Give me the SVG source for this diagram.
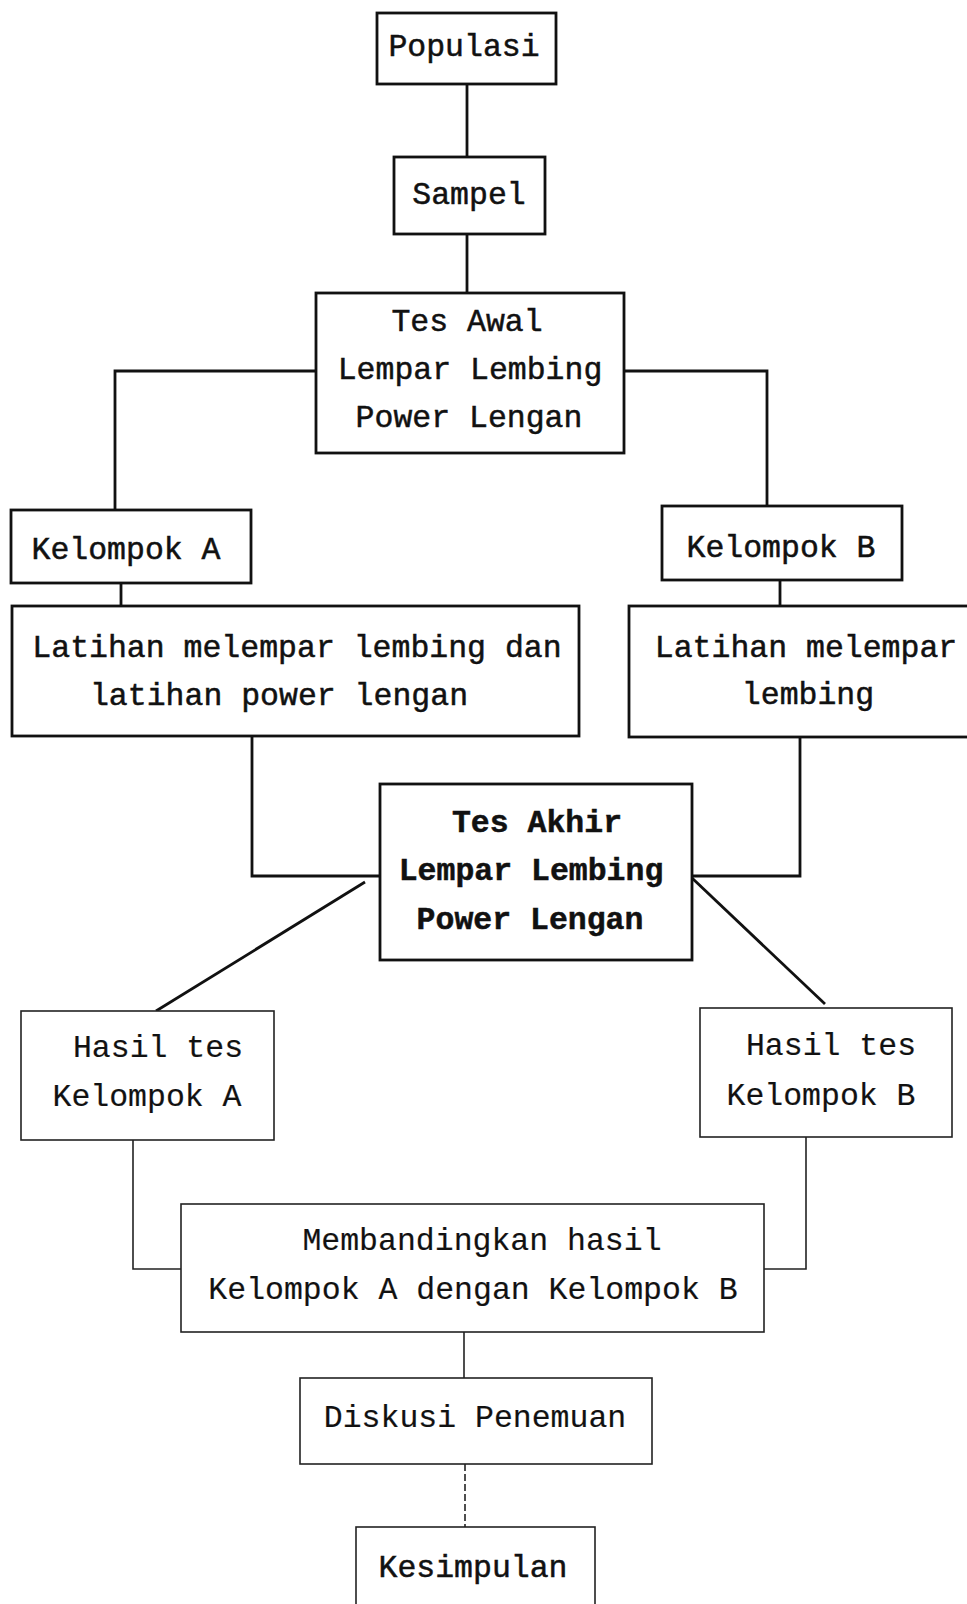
<svg xmlns="http://www.w3.org/2000/svg" width="967" height="1604" viewBox="0 0 967 1604">
<style>
text{font-family:"Liberation Mono","Courier New",monospace;font-size:31.5px;fill:#111;text-anchor:middle}
.t{stroke:#111;stroke-width:0.5px}
.b{font-weight:bold}
.l{stroke:#333;stroke-width:0.2px}
.box{fill:#fff;stroke:#111;stroke-width:2.8}
.boxl{fill:#fff;stroke:#222;stroke-width:1.6}
.c{fill:none;stroke:#111;stroke-width:2.8}
.cl{fill:none;stroke:#222;stroke-width:1.6}
.cd{fill:none;stroke:#222;stroke-width:1.6;stroke-dasharray:7 3}
</style>
<rect width="967" height="1604" fill="#fff"/>
<g id="connectors">
<path class="c" d="M467 84V157"/>
<path class="c" d="M467 234V293"/>
<path class="c" d="M316 371H115V510"/>
<path class="c" d="M624 371H767V506"/>
<path class="c" d="M121 583V606"/>
<path class="c" d="M780 580V606"/>
<path class="c" d="M252 736V876H380"/>
<path class="c" d="M800 737V876H692"/>
<path class="c" d="M365 882L156 1011"/>
<path class="c" d="M692 878L825 1004"/>
<path class="cl" d="M133 1140V1269H181"/>
<path class="cl" d="M806 1137V1269H764"/>
<path class="cl" d="M464 1332V1378"/>
<path class="cd" d="M465 1464V1527"/>
</g>
<g id="populasi"><rect class="box" x="377" y="13" width="179" height="71"/><text class="t" x="464" y="56">Populasi</text></g>
<g id="sampel"><rect class="box" x="394" y="157" width="151" height="77"/><text class="t" x="469" y="204">Sampel</text></g>
<g id="tes-awal"><rect class="box" x="316" y="293" width="308" height="160"/>
<text class="t" x="467" y="331">Tes Awal</text><text class="t" x="470" y="379">Lempar Lembing</text><text class="t" x="469" y="427">Power Lengan</text></g>
<g id="kelompok-a"><rect class="box" x="11" y="510" width="240" height="73"/><text class="t" x="126" y="559">Kelompok A</text></g>
<g id="kelompok-b"><rect class="box" x="662" y="506" width="240" height="74"/><text class="t" x="781" y="557">Kelompok B</text></g>
<g id="latihan-a"><rect class="box" x="12" y="606" width="567" height="130"/>
<text class="t" x="297" y="657">Latihan melempar lembing dan</text><text class="t" x="279" y="705">latihan power lengan</text></g>
<g id="latihan-b"><rect class="box" x="629" y="606" width="345" height="131"/>
<text class="t" x="806" y="657">Latihan melempar</text><text class="t" x="808" y="704">lembing</text></g>
<g id="tes-akhir"><rect class="box" x="380" y="784" width="312" height="176"/>
<text class="t b" x="537" y="832">Tes Akhir</text><text class="t b" x="531" y="880">Lempar Lembing</text><text class="t b" x="530" y="929">Power Lengan</text></g>
<g id="hasil-a"><rect class="boxl" x="21" y="1011" width="253" height="129"/>
<text class="l" x="158" y="1057">Hasil tes</text><text class="l" x="147" y="1106">Kelompok A</text></g>
<g id="hasil-b"><rect class="boxl" x="700" y="1008" width="252" height="129"/>
<text class="l" x="831" y="1055">Hasil tes</text><text class="l" x="821" y="1105">Kelompok B</text></g>
<g id="membandingkan"><rect class="boxl" x="181" y="1204" width="583" height="128"/>
<text class="l" x="482" y="1250">Membandingkan hasil</text><text class="l" x="473" y="1299">Kelompok A dengan Kelompok B</text></g>
<g id="diskusi"><rect class="boxl" x="300" y="1378" width="352" height="86"/><text class="l" x="475" y="1427">Diskusi Penemuan</text></g>
<g id="kesimpulan"><rect class="boxl" x="356" y="1527" width="239" height="100"/><text class="t" x="473" y="1577">Kesimpulan</text></g>
</svg>
